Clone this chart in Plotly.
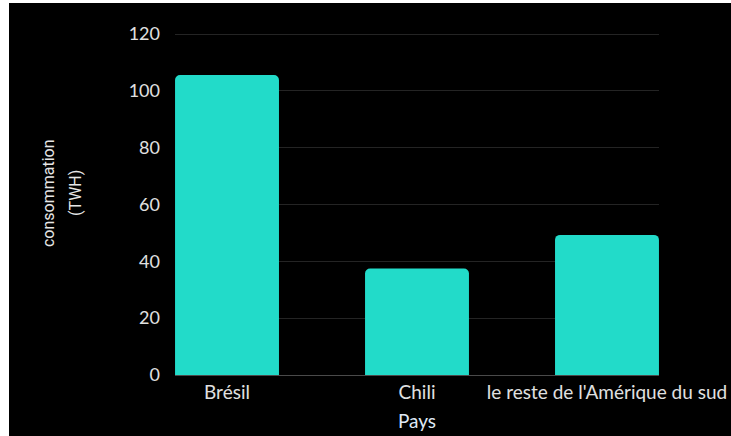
import plotly.graph_objects as go

pays = ["Brésil", "Chili", "le reste de l'Amérique du sud"]
consommation = [105.6, 37.5, 49.3]
y_ticks = [0, 20, 40, 60, 80, 100, 120]

W, H = 731, 436
L, R, T, B = 175, 72, 31, 61
pw, ph = W - L - R, H - T - B
y_top = 120 * (375 - T) / (375 - 34)

fig = go.Figure(go.Bar(
    x=pays, y=consommation,
    marker=dict(color="#22dbc9", line=dict(width=0)),
    width=0.547,
))

def px_x(p):
    return (p - L) / pw

def px_y(p):
    return 1 - (p - T) / ph

fig.update_layout(
    width=W, height=H,
    margin=dict(l=L, r=R, t=T, b=B, autoexpand=False),
    paper_bgcolor="black", plot_bgcolor="black",
    barcornerradius=5,
    showlegend=False,
    font=dict(family="Lato", color="#e6e6e6", size=15),
    xaxis=dict(
        range=[-0.2737, 2.2737], automargin=False,
        showgrid=False, showline=True, linecolor="#4a4a4a", linewidth=1,
        tickfont=dict(size=19, color="#e0e0e0"),
        ticks="", ticklen=0,
        title=dict(text="Pays", font=dict(size=19, color="#dfe8f5"), standoff=12),
    ),
    yaxis=dict(
        range=[0, y_top], tickvals=y_ticks, automargin=False,
        showgrid=True, gridcolor="#242424", gridwidth=1,
        zeroline=False, showline=False,
        tickfont=dict(size=18, color="#e0e0e0"),
        ticks="", ticklabelstandoff=14,
    ),
    shapes=[
        dict(type="rect", xref="paper", yref="paper",
             x0=px_x(0), x1=px_x(9), y0=px_y(H), y1=px_y(0),
             fillcolor="white", line=dict(width=0), layer="below"),
        dict(type="rect", xref="paper", yref="paper",
             x0=px_x(0), x1=px_x(W), y0=px_y(3), y1=px_y(0),
             fillcolor="white", line=dict(width=0), layer="below"),
    ],
    annotations=[
        dict(text="consommation", textangle=-90, xref="paper", yref="paper",
             x=px_x(49), y=px_y(193), showarrow=False,
             font=dict(family="Roboto", size=16, color="#e6e6e6"),
             xanchor="center", yanchor="middle"),
        dict(text="(TWH)", textangle=-90, xref="paper", yref="paper",
             x=px_x(76), y=px_y(193), showarrow=False,
             font=dict(family="Roboto", size=16, color="#e6e6e6"),
             xanchor="center", yanchor="middle"),
    ],
)

fig.write_html("out.html")
